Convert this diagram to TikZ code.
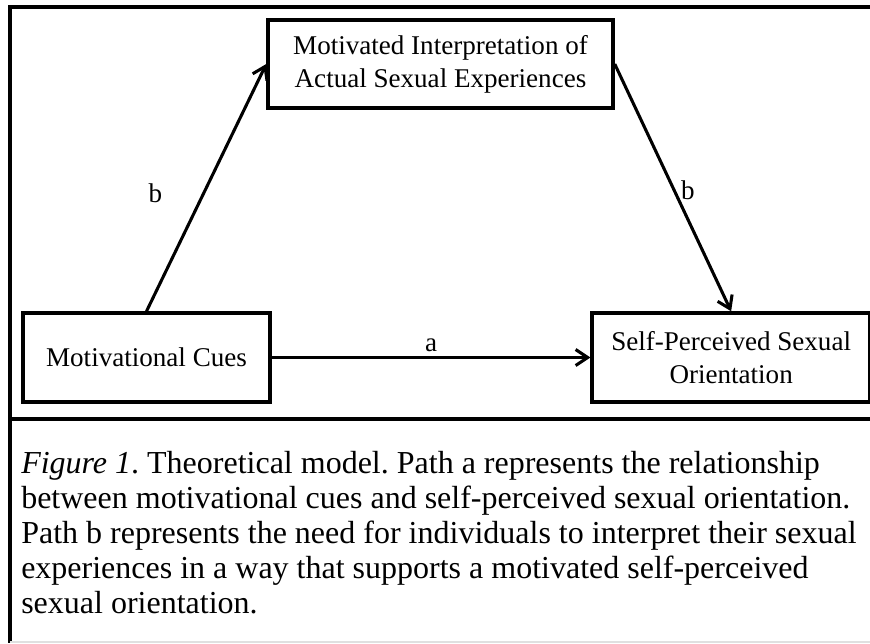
\documentclass[tikz,border=0pt]{standalone}
\usepackage{fontspec}
\setmainfont{Liberation Serif}
\frenchspacing
\usetikzlibrary{arrows.meta,positioning,shadows}

\begin{document}
\begin{tikzpicture}[
  x=0.75pt,y=-0.75pt,
  frame/.style={line width=2.4pt},
  box/.style={rectangle,draw=black,fill=white,line width=2.6pt,
              inner sep=0pt,align=center,
              font=\fontsize{20.3}{24.8}\selectfont,
              drop shadow={shadow xshift=1.2pt,shadow yshift=-1.5pt,opacity=0.25}},
  lbl/.style={font=\fontsize{20.3}{24}\selectfont,inner sep=0pt},
  arr/.style={-{Straight Barb[length=9pt,width=12pt]},line width=2.3pt},
  captext/.style={align=left,inner sep=0pt,font=\fontsize{24}{26.2}\selectfont}
]
  \useasboundingbox (0,0) rectangle (870,643);

  % frame round the figure
  \draw[frame] (870,7) -- (10,7) -- (10,643);
  \draw[frame] (10,419) -- (870,419);
  \draw[black!12,line width=0.8pt] (10,642) -- (870,642);

  % boxes
  \node[box,minimum width=258.75pt,minimum height=66pt] (mi) at (440.5,64)
    {Motivated Interpretation of\\Actual Sexual Experiences};
  \node[box,minimum width=185.25pt,minimum height=66.75pt] (mc) at (146.5,357.5)
    {Motivational Cues};
  \node[box,minimum width=208.5pt,minimum height=66.75pt,right=239pt of mc] (sp)
    {Self-Perceived Sexual\\Orientation};

  % paths
  \draw[arr] (mc.north) -- node[lbl,midway,left=32pt,yshift=-4pt] (lb1) {b} (mi.west);
  \draw[arr] (mi.east) -- node[lbl,midway,right=5pt,yshift=-2pt] (lb2) {b} (sp.north);
  \draw[arr] (mc.east) -- node[lbl,midway,above=3pt] (la) {a} (sp.west);

  % caption
  \node[captext,anchor=north west] (capt) at (21,451)
    {\textit{Figure 1}. Theoretical model. Path a represents the relationship\\
     between motivational cues and self-perceived sexual orientation.\\
     Path b represents the need for individuals to interpret their sexual\\
     experiences in a way that supports a motivated self-perceived\\
     sexual orientation.};
\end{tikzpicture}
\end{document}
